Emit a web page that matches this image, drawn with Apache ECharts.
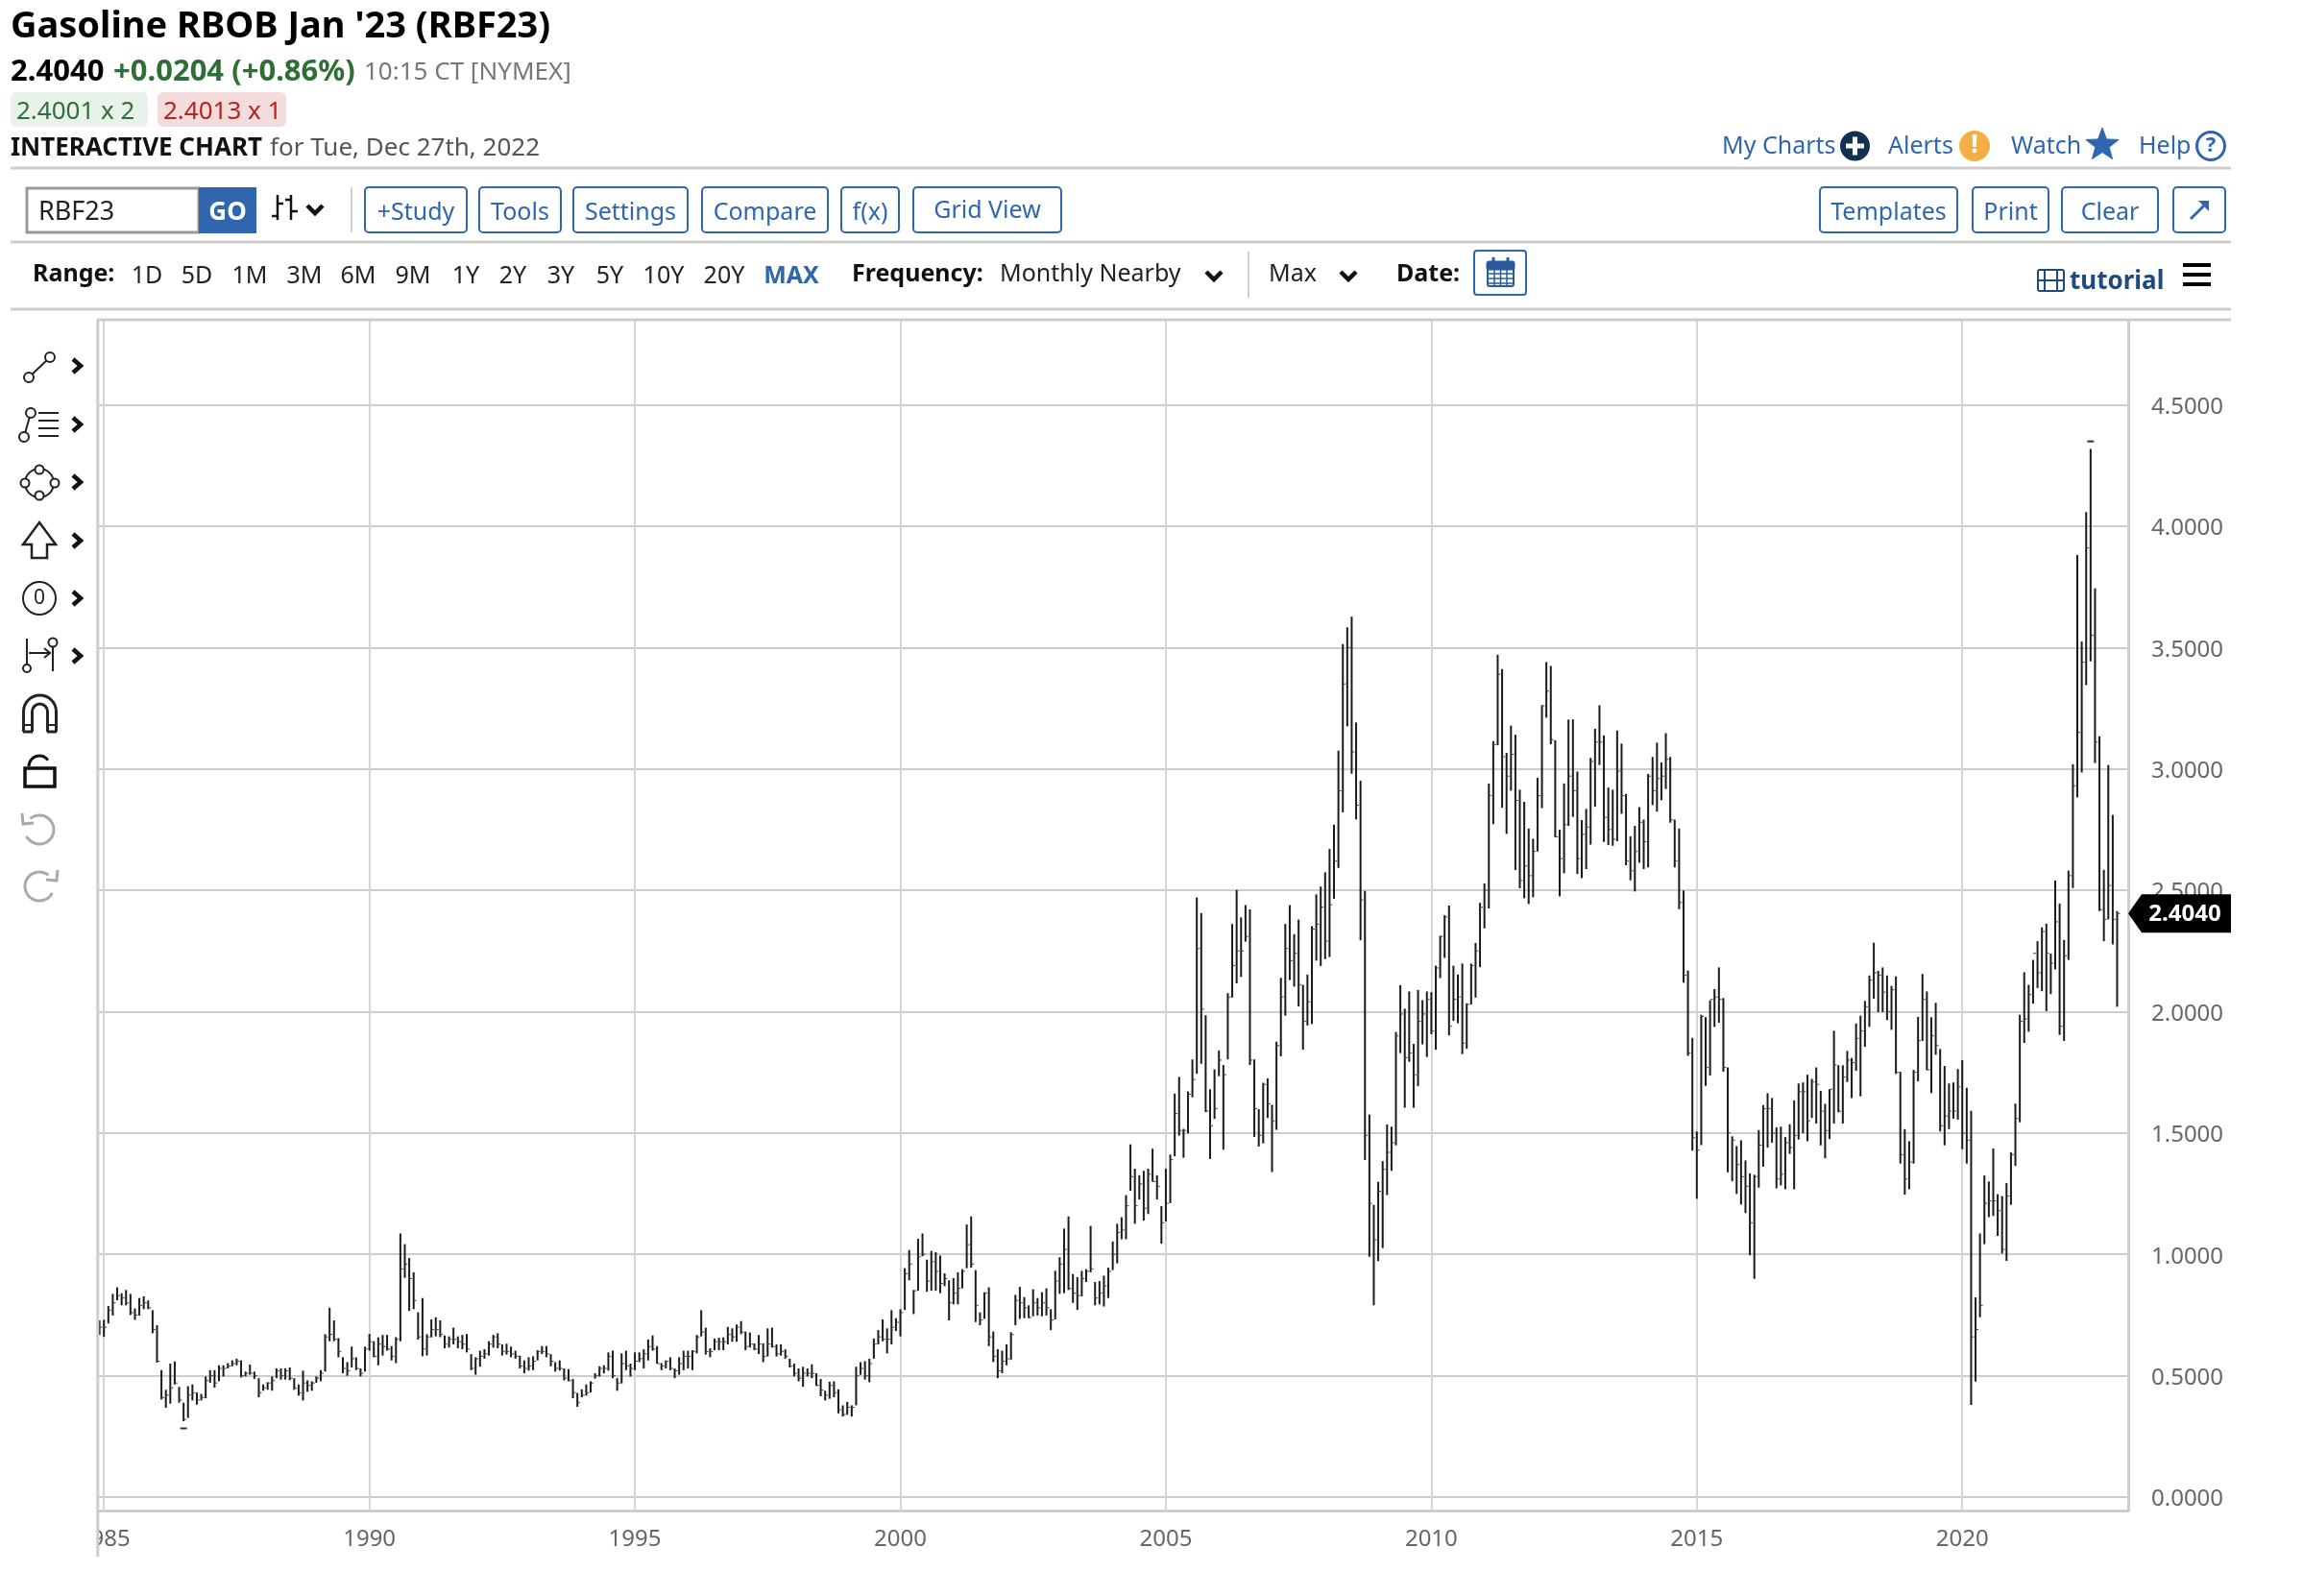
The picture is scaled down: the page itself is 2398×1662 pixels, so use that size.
<!DOCTYPE html>
<html>
<head>
<meta charset="utf-8">
<title>Gasoline RBOB Jan '23 (RBF23)</title>
<script src="https://cdn.jsdelivr.net/npm/echarts@6/dist/echarts.min.js"></script>
<style>
  html, body { margin: 0; padding: 0; background: #fff; }
  #chart { width: 2398px; height: 1662px; }
</style>
</head>
<body>
<div id="chart"></div>
<script>
// monthly high / low / close, Dec 1984 to Dec 2022
var highs = [
  .728,
  .730,.787,.837,.864,.840,.853,.837,.777,.820,.827,.810,.770,
  .708,.523,.442,.550,.559,.454,.389,.457,.464,.431,.425,.497,
  .523,.523,.543,.543,.552,.563,.570,.563,.517,.546,.517,.490,
  .464,.473,.497,.530,.530,.530,.534,.490,.464,.521,.481,.477,
  .497,.523,.671,.780,.728,.655,.576,.556,.620,.576,.530,.620,
  .672,.642,.658,.668,.668,.622,.659,1.086,1.042,.985,.926,.761,
  .820,.671,.732,.741,.728,.666,.662,.698,.662,.668,.672,.589,
  .576,.603,.609,.642,.668,.675,.629,.632,.620,.603,.583,.563,
  .576,.580,.605,.622,.622,.589,.556,.563,.530,.527,.487,.429,
  .444,.464,.477,.510,.539,.543,.596,.603,.490,.592,.603,.550,
  .596,.596,.609,.649,.666,.622,.552,.563,.576,.530,.576,.603,
  .603,.605,.668,.770,.698,.613,.653,.656,.658,.701,.695,.711,
  .725,.682,.678,.633,.668,.633,.695,.698,.629,.629,.609,.570,
  .550,.530,.537,.530,.547,.510,.487,.438,.475,.477,.444,.378,
  .392,.378,.537,.556,.560,.570,.653,.688,.732,.695,.770,.737,
  .774,.943,1.018,.853,1.064,1.086,.978,1.014,1.009,.995,.922,.893,
  .902,.926,.939,1.123,1.156,.935,.761,.844,.864,.682,.609,.603,
  .629,.679,.833,.866,.824,.790,.856,.820,.844,.860,.774,.932,
  .988,1.106,1.156,.919,.906,.932,.939,1.117,.886,.890,.912,.945,
  1.053,1.126,1.153,1.244,1.453,1.353,1.326,1.344,1.353,1.435,1.326,1.199,
  1.353,1.411,1.662,1.731,1.517,1.671,1.803,2.47,2.406,1.985,1.68,1.762,
  1.84,1.78,2.076,2.361,2.501,2.388,2.439,2.421,1.803,1.598,1.707,1.725,
  1.616,1.876,2.139,2.361,2.439,2.319,2.379,2.11,2.152,2.352,2.483,2.515,
  2.574,2.67,2.77,3.075,3.514,3.583,3.627,3.191,2.951,2.497,1.576,1.204,
  1.299,1.384,1.535,1.526,1.916,2.109,2.012,2.083,1.867,2.089,2.047,2.083,
  2.08,2.189,2.312,2.397,2.437,2.189,2.152,2.198,2.034,2.198,2.283,2.448,
  2.528,2.939,3.114,3.47,3.411,3.066,3.178,3.141,2.914,2.864,2.754,2.712,
  2.963,3.262,3.44,3.424,3.118,2.749,2.94,3.203,3.204,2.989,2.789,2.835,
  3.045,3.165,3.262,3.138,2.923,2.914,3.158,3.104,2.897,2.722,2.765,2.842,
  2.791,2.979,3.049,3.108,3.026,3.147,3.049,2.791,2.754,2.499,2.169,1.892,
  1.506,1.987,1.977,2.046,2.093,2.182,2.056,1.77,1.486,1.446,1.47,1.387,
  1.334,1.328,1.512,1.615,1.664,1.644,1.523,1.526,1.483,1.536,1.634,1.704,
  1.708,1.74,1.723,1.77,1.673,1.62,1.68,1.921,1.779,1.779,1.838,1.809,
  1.951,1.983,2.044,2.149,2.284,2.168,2.182,2.149,2.106,2.145,1.752,1.516,
  1.466,1.76,1.978,2.155,2.083,1.977,2.036,1.846,1.776,1.704,1.708,1.763,
  1.8,1.686,1.591,.823,1.086,1.325,1.3,1.436,1.248,1.24,1.294,1.42,
  1.621,1.987,2.162,2.11,2.213,2.29,2.347,2.362,2.239,2.54,2.445,2.295,
  2.581,3.019,3.881,3.525,4.058,4.318,3.744,3.134,2.584,3.016,2.81,2.414
];
var lows = [
  .668,
  .660,.715,.748,.811,.790,.790,.750,.730,.748,.774,.774,.675,
  .554,.402,.368,.385,.464,.389,.3125,.326,.398,.381,.398,.407,
  .471,.451,.477,.497,.530,.539,.543,.493,.497,.504,.487,.411,
  .438,.442,.438,.490,.484,.484,.481,.442,.418,.398,.434,.438,
  .471,.477,.517,.642,.642,.576,.510,.500,.534,.523,.497,.517,
  .603,.576,.543,.583,.603,.563,.552,.642,.903,.767,.774,.649,
  .580,.583,.658,.662,.659,.613,.616,.629,.613,.609,.596,.523,
  .504,.537,.570,.583,.616,.613,.583,.587,.576,.570,.530,.510,
  .521,.523,.563,.589,.576,.539,.517,.521,.481,.477,.407,.372,
  .411,.418,.431,.488,.497,.510,.521,.490,.438,.468,.523,.497,
  .523,.556,.530,.563,.603,.550,.523,.530,.523,.490,.504,.523,
  .530,.523,.592,.662,.587,.576,.605,.605,.605,.629,.640,.640,
  .671,.605,.616,.605,.589,.556,.579,.616,.579,.583,.570,.534,
  .497,.477,.454,.497,.490,.458,.415,.398,.405,.411,.345,.332,
  .339,.332,.378,.504,.484,.473,.570,.629,.642,.592,.629,.684,
  .662,.771,.893,.754,.850,.992,.846,.850,.850,.840,.869,.728,
  .794,.794,.860,.943,.945,.721,.708,.734,.622,.556,.490,.510,
  .543,.566,.708,.734,.737,.737,.745,.748,.745,.748,.688,.732,
  .837,.840,.853,.800,.771,.827,.886,.926,.790,.794,.785,.820,
  .935,.963,1.062,1.062,1.262,1.126,1.226,1.139,1.166,1.299,1.226,1.044,
  1.135,1.211,1.404,1.489,1.398,1.498,1.647,1.744,1.785,1.586,1.393,1.558,
  1.734,1.431,1.803,2.058,2.116,2.143,2.288,1.78,1.484,1.444,1.457,1.562,
  1.339,1.513,1.816,1.983,2.13,2.103,2.021,1.843,1.943,1.949,2.21,2.188,
  2.216,2.225,2.465,2.592,2.821,3.175,2.98,2.792,2.294,1.389,.99,.79,
  .972,1.026,1.244,1.344,1.449,1.829,1.604,1.793,1.604,1.693,1.865,1.813,
  1.907,1.843,2.138,2.221,1.902,1.962,1.952,1.825,1.847,2.029,2.058,2.183,
  2.343,2.425,2.772,3.097,2.84,2.732,2.91,2.583,2.508,2.467,2.443,2.471,
  2.66,2.838,3.211,3.101,2.718,2.475,2.57,2.765,2.802,2.567,2.55,2.587,
  2.688,2.844,3.016,2.699,2.686,2.683,2.702,2.815,2.603,2.541,2.495,2.613,
  2.587,2.594,2.851,2.824,2.871,2.917,2.778,2.594,2.422,2.119,1.818,1.427,
  1.229,1.45,1.694,1.737,1.937,1.954,1.752,1.338,1.301,1.249,1.205,1.17,
  .996,.899,1.275,1.361,1.44,1.46,1.272,1.284,1.268,1.414,1.268,1.473,
  1.499,1.466,1.562,1.539,1.449,1.396,1.475,1.539,1.585,1.539,1.71,1.644,
  1.756,1.651,1.855,1.937,2.053,1.998,1.998,1.965,1.925,1.743,1.374,1.246,
  1.268,1.374,1.713,1.879,1.759,1.664,1.822,1.506,1.449,1.516,1.559,1.555,
  1.433,1.374,.38,.476,.741,1.042,1.153,1.158,1.076,1.004,.973,1.204,
  1.364,1.544,1.871,1.917,2.033,2.097,2.084,2.002,2.072,2.174,1.904,1.879,
  2.213,2.509,2.882,2.985,3.345,3.443,3.024,2.414,2.29,2.38,2.277,2.02
];
var closes = [
  .70,
  .70,.77,.80,.83,.82,.80,.76,.75,.79,.80,.78,.69,
  .56,.41,.42,.45,.47,.40,.32,.42,.43,.40,.41,.48,
  .50,.47,.53,.53,.54,.55,.56,.50,.51,.51,.50,.43,
  .45,.47,.48,.52,.50,.52,.49,.45,.43,.47,.46,.47,
  .49,.51,.66,.67,.65,.60,.53,.52,.57,.53,.51,.61,
  .64,.58,.63,.62,.61,.58,.65,.94,.96,.90,.81,.66,
  .61,.66,.69,.69,.67,.63,.65,.65,.64,.63,.61,.53,
  .57,.58,.59,.63,.66,.63,.60,.60,.59,.58,.54,.53,
  .54,.56,.60,.60,.59,.56,.53,.53,.49,.48,.43,.39,
  .42,.43,.47,.50,.53,.53,.58,.50,.47,.55,.54,.53,
  .56,.57,.59,.62,.61,.55,.54,.56,.53,.52,.55,.58,
  .58,.60,.66,.68,.60,.60,.64,.64,.64,.67,.66,.70,
  .68,.62,.63,.61,.63,.58,.63,.62,.59,.60,.58,.54,
  .51,.49,.51,.51,.51,.46,.44,.42,.46,.43,.36,.34,
  .37,.37,.50,.53,.50,.55,.63,.66,.65,.65,.70,.72,
  .76,.92,.96,.85,.99,1.00,.89,.97,.93,.88,.90,.80,
  .84,.86,.93,1.04,.96,.79,.73,.84,.66,.58,.52,.56,
  .57,.67,.81,.80,.78,.74,.80,.78,.80,.78,.73,.89,
  .96,1.02,.86,.84,.83,.90,.93,.94,.82,.84,.87,.93,
  1.00,1.09,1.10,1.20,1.32,1.20,1.29,1.19,1.33,1.30,1.28,1.13,
  1.21,1.39,1.58,1.51,1.51,1.66,1.72,2.26,2.01,1.59,1.53,1.60,
  1.80,1.74,2.06,2.19,2.25,2.25,2.31,1.80,1.60,1.49,1.70,1.62,
  1.55,1.86,2.06,2.26,2.21,2.24,2.11,1.96,2.04,2.34,2.36,2.43,
  2.29,2.44,2.62,2.91,3.35,3.50,3.07,2.85,2.46,1.49,1.21,1.06,
  1.26,1.35,1.42,1.46,1.90,1.99,1.81,1.83,1.74,1.96,1.99,2.05,
  1.92,2.18,2.31,2.39,1.94,2.05,2.06,1.87,2.03,2.19,2.25,2.43,
  2.50,2.89,3.10,3.39,3.05,2.97,3.06,2.87,2.54,2.60,2.56,2.66,
  2.89,3.26,3.32,3.12,2.72,2.63,2.77,2.97,2.91,2.63,2.73,2.76,
  3.03,3.11,3.11,2.80,2.75,2.71,2.99,2.89,2.62,2.58,2.66,2.78,
  2.70,2.97,2.91,2.96,2.97,3.04,2.79,2.62,2.45,2.15,1.83,1.48,
  1.43,1.98,1.77,2.05,2.06,2.05,1.77,1.50,1.47,1.37,1.32,1.28,
  1.13,1.32,1.45,1.60,1.60,1.50,1.31,1.33,1.46,1.44,1.49,1.67,
  1.67,1.55,1.71,1.70,1.59,1.51,1.68,1.78,1.59,1.73,1.80,1.79,
  1.89,1.92,2.02,2.13,2.16,2.15,2.08,2.00,2.09,1.75,1.41,1.31,
  1.38,1.75,1.88,2.05,1.76,1.90,1.86,1.53,1.57,1.59,1.59,1.69,
  1.50,1.47,.66,.69,.79,1.21,1.22,1.22,1.18,1.02,1.24,1.41,
  1.56,1.96,1.97,2.07,2.24,2.16,2.33,2.24,2.20,2.37,1.94,2.23,
  2.56,2.93,3.15,3.44,3.91,3.55,3.11,2.42,2.38,2.52,2.38,2.404
];
var priceTicks = [0, 0.5, 1, 1.5, 2, 2.5, 3, 3.5, 4, 4.5];
var yearTicks = ['1985', '1990', '1995', '2000', '2005', '2010', '2015', '2020'];
var extremes = [['1986-07', 0.283], ['2022-06', 4.349]];
var lastPrice = 2.404;

var rangeItems = [['1D', 153], ['5D', 205], ['1M', 260], ['3M', 317], ['6M', 373], ['9M', 430], ['1Y', 485],
  ['2Y', 534], ['3Y', 584], ['5Y', 635], ['10Y', 691], ['20Y', 754]];
var leftButtons = [['+Study', 380, 486], ['Tools', 499, 584], ['Settings', 597, 716], ['Compare', 731, 862],
  ['f(x)', 876, 936], ['Grid View', 951, 1105]];
var rightButtons = [['Templates', 1895, 2038], ['Print', 2054, 2133], ['Clear', 2147, 2247]];

// months on the axis, two empty ones after the last bar leave the gap before the price scale
var months = [];
for (var y = 1984; y <= 2023; y++) {
  for (var m = 1; m <= 12; m++) {
    if ((y === 1984 && m < 12) || (y === 2023 && m > 2)) continue;
    months.push(y + '-' + (m < 10 ? '0' + m : m));
  }
}

var bars = highs.map(function (h, i) {
  return [i, h, lows[i], closes[i]];
});

var FONT = '"Noto Sans", "Open Sans", sans-serif';
var BLUE = '#2f66ae';
var GRID = '#cdcdcd';

// helpers for the page furniture round the chart
var items = [];
function txt(x, y, text, size, fill, weight, align) {
  items.push({
    type: 'text', z: 100, silent: true,
    style: { x: x, y: y + 2.5, text: text, fontFamily: FONT, fontSize: size, fill: fill, fontWeight: weight || 'normal',
      align: align || 'left', verticalAlign: 'middle' }
  });
}
function line(x1, y1, x2, y2, stroke, w) {
  items.push({ type: 'line', z: 100, silent: true, shape: { x1: x1, y1: y1, x2: x2, y2: y2 }, style: { stroke: stroke, lineWidth: w || 2 } });
}
function poly(points, stroke, w, fill, closed) {
  items.push({ type: closed ? 'polygon' : 'polyline', z: 100, silent: true, shape: { points: points },
    style: { stroke: stroke, lineWidth: w || 2, fill: fill || null } });
}
function box(x1, y1, x2, y2, fill, stroke, r, w) {
  items.push({ type: 'rect', z: 99, silent: true, shape: { x: x1, y: y1, width: x2 - x1, height: y2 - y1, r: r || 0 },
    style: { fill: fill || null, stroke: stroke || null, lineWidth: w || 2 } });
}
function dot(x, y, r, fill, stroke, w) {
  items.push({ type: 'circle', z: 100, silent: true, shape: { cx: x, cy: y, r: r },
    style: { fill: fill || '#fff', stroke: stroke || null, lineWidth: w || 2 } });
}
function arc(x, y, r, from, to, stroke, w) {
  items.push({ type: 'arc', z: 100, silent: true, shape: { cx: x, cy: y, r: r, startAngle: from, endAngle: to, clockwise: true },
    style: { stroke: stroke, lineWidth: w || 2, fill: null } });
}
function chevron(x, y) {
  poly([[x - 4, y - 7], [x + 4, y], [x - 4, y + 7]], '#111', 4.5);
}
function chevronDown(x, y) {
  poly([[x - 8, y - 4], [x, y + 4], [x + 8, y - 4]], '#111', 4.5);
}

// header
txt(11, 26, "Gasoline RBOB Jan '23 (RBF23)", 38, '#000', 'bold');
txt(11, 73, '2.4040', 31, '#000', 'bold');
txt(118, 73, '+0.0204 (+0.86%)', 31, '#2f6f36', 'bold');
txt(379, 73, '10:15 CT [NYMEX]', 26, '#777');
box(11, 96, 154, 132, '#e9f2ea', null, 6);
box(164, 96, 298, 132, '#f5dcdc', null, 6);
txt(17, 114, '2.4001 x 2', 26, '#2f6f36');
txt(170, 114, '2.4013 x 1', 26, '#b3261e');
txt(11, 152.5, 'INTERACTIVE CHART', 26, '#111', 'bold');
txt(281, 152.5, 'for Tue, Dec 27th, 2022', 26, '#555');

txt(1793, 150.5, 'My Charts', 25, BLUE);
dot(1931.5, 152, 15.5, '#12304f');
line(1922, 152, 1941, 152, '#fff', 5);
line(1931.5, 142.5, 1931.5, 161.5, '#fff', 5);
txt(1966, 150.5, 'Alerts', 25, BLUE);
dot(2056, 152, 16, '#f2b044');
txt(2056, 149, '!', 27, '#fff', 'bold', 'center');
txt(2094, 150.5, 'Watch', 25, BLUE);
var star = [];
for (var k = 0; k < 10; k++) {
  var r = k % 2 ? 7.5 : 18;
  star.push([2189 + r * Math.sin(k * Math.PI / 5), 151 - r * Math.cos(k * Math.PI / 5)]);
}
poly(star, BLUE, 1, BLUE, true);
txt(2227, 150.5, 'Help', 25, BLUE);
dot(2302, 152, 14.5, '#fff', BLUE, 3);
txt(2302, 149, '?', 22, BLUE, 'bold', 'center');

line(11, 175, 2323, 175, GRID, 3);
line(11, 252, 2323, 252, GRID, 3);
line(11, 322, 2323, 322, GRID, 3);

// toolbar
box(28, 196, 207, 242, '#fff', '#999', 0, 3);
txt(40, 219, 'RBF23', 27, '#222');
box(207, 195, 267, 243, BLUE);
txt(237, 219, 'GO', 26, '#fff', 'bold', 'center');
line(289, 203, 289, 229, '#111', 2.5);
line(283, 225, 289, 225, '#111', 2.5);
line(289, 212, 295, 212, '#111', 2.5);
line(303, 203, 303, 229, '#111', 2.5);
line(297, 208, 303, 208, '#111', 2.5);
line(303, 220, 310, 220, '#111', 2.5);
chevronDown(328, 218);
line(366, 195, 366, 242, GRID, 2);
leftButtons.concat(rightButtons).forEach(function (b) {
  box(b[1], 195, b[2], 242, '#fff', BLUE, 4);
  txt((b[1] + b[2]) / 2, b[0] === 'Grid View' ? 217 : 219.5, b[0], 25, BLUE, 'normal', 'center');
});
box(2263, 195, 2317, 242, '#fff', BLUE, 4);
line(2281, 228, 2298, 211, BLUE, 3);
poly([[2289, 209], [2300, 209], [2300, 220]], null, 1, BLUE, true);

// range row
txt(34, 283, 'Range:', 25, '#111', 'bold');
rangeItems.forEach(function (r) {
  txt(r[1], 285.5, r[0], 25, '#222', 'normal', 'center');
});
txt(824, 285.5, 'MAX', 25, BLUE, 'bold', 'center');
txt(887, 283, 'Frequency:', 25, '#111', 'bold');
txt(1041, 283, 'Monthly Nearby', 25, '#222');
chevronDown(1264, 287);
line(1300, 262, 1300, 310, GRID, 2);
txt(1321, 283, 'Max', 25, '#222');
chevronDown(1404, 287);
txt(1454, 283, 'Date:', 25, '#111', 'bold');
box(1535, 261, 1589, 307, '#fff', BLUE, 3);
// calendar glyph
box(1549, 274, 1576, 298, '#fff', '#2a5a9c', 2, 2);
box(1548, 272, 1577, 281, '#2a5a9c', '#2a5a9c', 2, 1);
line(1555, 268, 1555, 276, '#2a5a9c', 3);
line(1570, 268, 1570, 276, '#2a5a9c', 3);
[285, 290, 295].forEach(function (ly) { line(1550, ly, 1575, ly, '#2a5a9c', 1.5); });
[1556, 1562.5, 1569].forEach(function (lx) { line(lx, 281, lx, 297, '#2a5a9c', 1.5); });
box(2122, 281, 2149, 303, null, '#1e4a7c', 2, 2);
line(2129, 281, 2129, 303, '#1e4a7c', 2);
line(2142, 281, 2142, 303, '#1e4a7c', 2);
line(2122, 292, 2149, 292, '#1e4a7c', 2);
txt(2155, 291.5, 'tutorial', 26, '#1e4a7c', 'bold');
line(2273, 276, 2302, 276, '#000', 4);
line(2273, 286, 2302, 286, '#000', 4);
line(2273, 296, 2302, 296, '#000', 4);

// drawing tools on the left
[381, 442, 502, 563, 623, 683].forEach(function (cy) { chevron(80, cy); });
var INK = '#222';
line(30, 393, 52, 372, INK, 2);
dot(30, 393, 5, '#fff', INK);
dot(52, 372, 5, '#fff', INK);
line(25, 455, 32, 430, INK, 2);
dot(25, 455, 5, '#fff', INK);
dot(32, 430, 5, '#fff', INK);
[430, 438, 446, 454].forEach(function (ly) { line(40, ly, 61, ly, INK, 2); });
dot(41, 503, 15, '#fff', INK);
dot(41, 489, 4.5, '#fff', INK);
dot(57, 503, 4.5, '#fff', INK);
dot(41, 516, 4.5, '#fff', INK);
dot(26, 503, 4.5, '#fff', INK);
poly([[41, 544], [58, 567], [49, 567], [49, 581], [33, 581], [33, 567], [24, 567]], INK, 2.5, null, true);
dot(41, 623, 17, '#fff', INK);
txt(41, 621, '0', 21, INK, 'normal', 'center');
line(28, 665, 28, 692, INK, 2);
dot(28, 696, 4, '#fff', INK);
line(30, 680, 51, 680, INK, 2);
poly([[46, 675], [52, 680], [46, 685]], INK, 2);
line(55, 673, 55, 699, INK, 2);
dot(55, 669, 4.5, '#fff', INK);
arc(41.5, 741, 17, Math.PI, Math.PI * 2, INK, 3);
arc(41.5, 741, 8, Math.PI, Math.PI * 2, INK, 3);
[24.5, 33.5, 49.5, 58.5].forEach(function (lx) { line(lx, 741, lx, 762, INK, 3); });
line(24, 755, 34, 755, INK, 2);
line(49, 755, 59, 755, INK, 2);
line(24, 762, 34, 762, INK, 3);
line(49, 762, 59, 762, INK, 3);
box(26, 800, 57, 819, '#fff', '#111', 0, 3.5);
arc(41, 798, 11, Math.PI, Math.PI * 1.8, '#111', 3);
arc(41, 864, 15, -Math.PI * 0.72, Math.PI * 0.85, '#aaa', 3);
poly([[23, 847], [24, 858], [35, 857]], '#aaa', 3);
arc(41, 923, 15, Math.PI * 0.15, Math.PI * 1.72, '#aaa', 3);
poly([[60, 906], [59, 917], [48, 916]], '#aaa', 3);

// plot frame, hides the clipped part of the 1985 label
box(60, 1578, 101, 1625, '#fff');
line(101.8, 333, 101.8, 1621, GRID, 3);
line(101, 333, 2323, 333, GRID, 3);

var option = {
  animation: false,
  textStyle: { fontFamily: FONT },
  grid: { left: 101.3, right: 182, top: 333, bottom: 89 },
  xAxis: {
    type: 'category',
    data: months,
    axisLine: { onZero: false, lineStyle: { color: GRID, width: 3 } },
    axisTick: { show: false },
    splitLine: { show: false },
    axisLabel: {
      color: '#666',
      fontSize: 24,
      margin: 18,
      interval: function (i, v) {
        return v.slice(5) === '01' && yearTicks.indexOf(v.slice(0, 4)) >= 0;
      },
      formatter: function (v) { return v.slice(0, 4); }
    }
  },
  yAxis: {
    type: 'value',
    position: 'right',
    min: -0.0554,
    max: 4.85,
    axisLine: { show: true, lineStyle: { color: GRID, width: 3 } },
    axisTick: { show: false, customValues: priceTicks },
    axisLabel: {
      customValues: priceTicks,
      margin: 24,
      formatter: function (v) { return '{p|' + v.toFixed(4) + '}'; },
      rich: { p: { color: '#666', fontSize: 24, fontFamily: FONT, padding: [5, 0, 0, 0] } }
    },
    splitLine: { show: true, lineStyle: { color: GRID, width: 2 } }
  },
  graphic: { elements: items },
  series: [
    {
      // year lines sit on the January of each labelled year
      type: 'line',
      z: 1,
      data: [],
      markLine: {
        silent: true,
        z: 1,
        symbol: 'none',
        label: { show: false },
        lineStyle: { color: '#d6d6d6', width: 2, type: 'solid' },
        data: yearTicks.map(function (yr) { return { xAxis: yr + '-01' }; })
      }
    },
    {
      type: 'custom',
      z: 3,
      data: bars,
      encode: { x: 0, y: [1, 2, 3] },
      renderItem: function (params, api) {
        var hi = api.coord([api.value(0), api.value(1)]);
        var lo = api.coord([api.value(0), api.value(2)]);
        var cl = api.coord([api.value(0), api.value(3)]);
        return {
          type: 'group',
          children: [
            { type: 'line', shape: { x1: hi[0], y1: hi[1], x2: lo[0], y2: lo[1] }, style: { stroke: '#1a1a1a', lineWidth: 2 } },
            { type: 'line', shape: { x1: cl[0], y1: cl[1], x2: cl[0] + 3, y2: cl[1] }, style: { stroke: '#444', lineWidth: 1 } }
          ]
        };
      }
    },
    {
      // the small dashes at the contract's all-time low and high
      type: 'scatter',
      z: 3,
      symbol: 'rect',
      symbolSize: [7, 2],
      itemStyle: { color: '#000' },
      data: extremes
    },
    {
      type: 'custom',
      z: 5,
      data: [[months.length - 1, lastPrice]],
      encode: { x: 0, y: 1 },
      renderItem: function (params, api) {
        var py = api.coord([api.value(0), api.value(1)])[1];
        var px = params.coordSys.x + params.coordSys.width;
        return {
          type: 'group',
          children: [
            { type: 'polygon', shape: { points: [[px, py], [px + 14, py - 20], [px + 107, py - 20], [px + 107, py + 20], [px + 14, py + 20]] }, style: { fill: '#000' } },
            { type: 'text', style: { x: px + 59, y: py + 1, text: lastPrice.toFixed(4), fill: '#fff', fontFamily: FONT, fontSize: 24, fontWeight: 'bold', align: 'center', verticalAlign: 'middle' } }
          ]
        };
      }
    }
  ]
};

var chart = echarts.init(document.getElementById('chart'));
chart.setOption(option);
</script>
</body>
</html>
